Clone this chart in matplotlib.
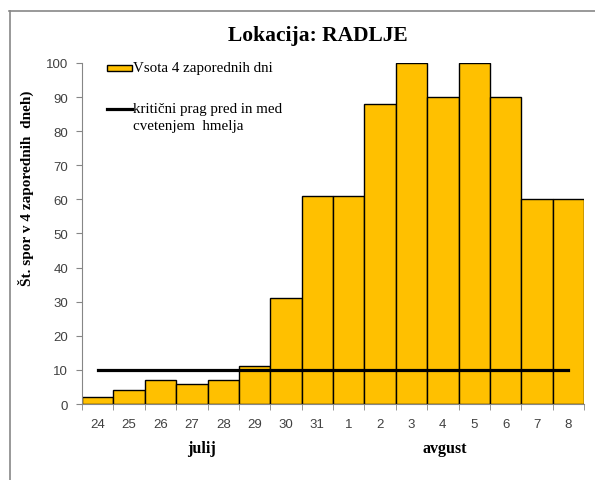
"""
Bar chart: spore counts over 4 consecutive days, Radlje
"""

import numpy as np
from matplotlib import pyplot as plt
from matplotlib.lines import Line2D
from matplotlib.patches import Rectangle

# --------------------------------------------------------------------------------------------------
# Data
# --------------------------------------------------------------------------------------------------

days = ['24', '25', '26', '27', '28', '29', '30', '31',
        '1', '2', '3', '4', '5', '6', '7', '8']
sums = [2, 4, 7, 6, 7, 11, 31, 61, 61, 88, 100, 90, 100, 90, 60, 60]   # Vsota 4 zaporednih dni
threshold = [10] * len(days)                                         # kritični prag
months = ['julij', 'avgust']

# --------------------------------------------------------------------------------------------------
# Figure
# --------------------------------------------------------------------------------------------------

serif = ['Liberation Serif', 'DejaVu Serif']
sans = ['Liberation Sans', 'DejaVu Sans']
gold = '#FFC000'

fig = plt.figure(figsize=(5.95, 4.81), dpi=100)
ax = fig.add_axes([0.138, 0.158, 0.8435, 0.709])

x = np.arange(len(days))
ax.bar(x, sums, width=1.0, color=gold, edgecolor='black', linewidth=1.0, zorder=2)
ax.plot(x, threshold, color='black', linewidth=2.3, zorder=3)

ax.set_xlim(-0.5, len(days) - 0.5)
ax.set_ylim(0, 100)
ax.set_yticks(range(0, 101, 10))
ax.set_xticks(x)
ax.set_xticklabels(days, family=sans, fontsize=9.5, color='#404040')
ax.set_xticks(np.arange(-0.5, len(days), 1), minor=True)
ax.tick_params(axis='x', which='major', length=0, pad=10)
ax.tick_params(axis='x', which='minor', length=4, color='#868686', direction='out')
ax.tick_params(axis='y', length=4, color='#868686', direction='out', labelsize=9.5,
               labelcolor='#404040', pad=6)
for lab in ax.get_yticklabels():
    lab.set_family(sans)

for side in ['top', 'right']:
    ax.spines[side].set_visible(False)
for side in ['left', 'bottom']:
    ax.spines[side].set_color('#868686')

ax.set_ylabel('Št. spor v 4 zaporednih  dneh)', family=serif, fontsize=11,
              fontweight='bold')
ax.yaxis.set_label_coords(-0.096, 0.636)

# month labels under the day ticks
ax.text(3.32, -12.8, months[0], family=serif, fontsize=11.5, fontweight='bold',
        ha='center', va='center', clip_on=False)
ax.text(11.07, -12.8, months[1], family=serif, fontsize=11.5, fontweight='bold',
        ha='center', va='center', clip_on=False)

# legend drawn Excel-style: handle aligned with the first line of its label
ax.add_patch(Rectangle((0.0498, 0.9765), 0.0498, 0.0176, transform=ax.transAxes,
                       facecolor=gold, edgecolor='black', linewidth=1.0, clip_on=False))
ax.text(0.1016, 0.9853, 'Vsota 4 zaporednih dni', transform=ax.transAxes,
        family=serif, fontsize=10.8, va='center', ha='left')
ax.add_line(Line2D([0.0498, 0.0996], [0.8651, 0.8651], transform=ax.transAxes,
                   color='black', linewidth=2.3))
ax.text(0.1016, 0.8651, 'kritični prag pred in med', transform=ax.transAxes,
        family=serif, fontsize=10.8, va='center', ha='left')
ax.text(0.1016, 0.8152, 'cvetenjem  hmelja', transform=ax.transAxes,
        family=serif, fontsize=10.8, va='center', ha='left')

fig.text(0.534, 0.926, 'Lokacija: RADLJE', family=serif, fontsize=15.5,
         fontweight='bold', ha='center', va='center')

# chart frame (top and left edges visible)
fig.add_artist(Line2D([0.015, 1.0], [0.976, 0.976], color='#888888', linewidth=1.2))
fig.add_artist(Line2D([0.016, 0.016], [0.0, 0.976], color='#888888', linewidth=1.2))

plt.savefig('out.png', dpi=100)
